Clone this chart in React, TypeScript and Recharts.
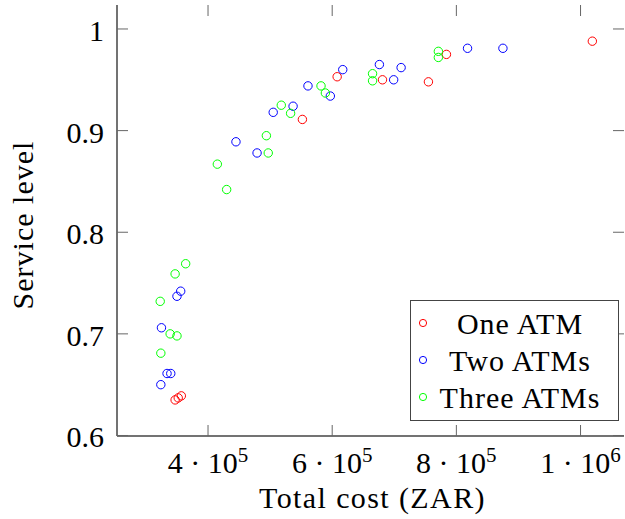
import React from "react"
import { ScatterChart, Scatter, XAxis, YAxis, Legend } from "recharts"

// ── Data ─────────────────────────────────────────────────────────────────────

const oneAtmCost = [608000, 552000, 1019000, 784000, 681000, 755000, 347000, 352000, 357000]
const oneAtmLevel = [0.953, 0.911, 0.988, 0.975, 0.95, 0.948, 0.635, 0.637, 0.639]

const twoAtmCost = [
  617000, 561000, 597000, 537000, 505000, 445000, 479000, 875000, 818000,
  676000, 711000, 699000, 356000, 350000, 325000, 334000, 340000, 324000
]
const twoAtmLevel = [
  0.96, 0.944, 0.934, 0.924, 0.918, 0.889, 0.878, 0.981, 0.981,
  0.965, 0.962, 0.95, 0.742, 0.737, 0.706, 0.661, 0.661, 0.65
]

const threeAtmCost = [
  582000, 589000, 518000, 533000, 494000, 497000, 415000, 430000, 771000,
  771000, 665000, 665000, 364000, 347000, 323000, 339000, 350000, 324000
]
const threeAtmLevel = [
  0.944, 0.937, 0.925, 0.917, 0.895, 0.878, 0.867, 0.842, 0.978,
  0.972, 0.956, 0.949, 0.769, 0.759, 0.732, 0.7, 0.698, 0.681
]

const costTicks = [400000, 600000, 800000, 1000000]
const levelTicks = [0.6, 0.7, 0.8, 0.9, 1]

const COST_DOMAIN: [number, number] = [253400, 1070000]
const LEVEL_DOMAIN: [number, number] = [0.5995, 1.0236]

const SERIES = [
  { name: "One ATM", color: "#ff0000", cost: oneAtmCost, level: oneAtmLevel },
  { name: "Two ATMs", color: "#0000ff", cost: twoAtmCost, level: twoAtmLevel },
  { name: "Three ATMs", color: "#00ff00", cost: threeAtmCost, level: threeAtmLevel }
]

const toPoints = (xs: number[], ys: number[]) => xs.map((x, i) => ({ x, y: ys[i] }))

// ── Layout / styling ─────────────────────────────────────────────────────────

const WIDTH = 625
const HEIGHT = 519
const MARGIN = { top: 5, right: 1, bottom: 0, left: 0 }
const Y_AXIS_W = 117
const X_AXIS_H = 83
const PLOT_W = WIDTH - MARGIN.left - MARGIN.right - Y_AXIS_W
const PLOT_H = HEIGHT - MARGIN.top - MARGIN.bottom - X_AXIS_H

const FONT = "Liberation Serif"
const FRAME = "#444"
const TICK_COLOR = "#666"
const TICK_LEN = 11

// Inward ticks: the bottom/left tick also draws its mirror on the top/right edge.
const BottomTick = ({ x, y, payload }: any) => {
  const v: number = payload.value
  const exp = Math.floor(Math.log10(v))
  const mant = Math.round(v / Math.pow(10, exp))
  return (
    <g>
      <path d={`M${x},${y}V${y - TICK_LEN}`} stroke={TICK_COLOR} strokeWidth={1} fill="none" />
      <path
        d={`M${x},${y - PLOT_H}V${y - PLOT_H + TICK_LEN}`}
        stroke={TICK_COLOR}
        strokeWidth={1}
        fill="none"
      />
      <text x={x} y={y + 37} textAnchor="middle" fontFamily={FONT} fontSize={30} fill="#000">
        <tspan>{`${mant} · 10`}</tspan>
        <tspan dy={-11} fontSize={21}>{exp}</tspan>
      </text>
    </g>
  )
}

const LeftTick = ({ x, y, payload }: any) => (
  <g>
    <path d={`M${x},${y}H${x + TICK_LEN}`} stroke={TICK_COLOR} strokeWidth={1} fill="none" />
    <path
      d={`M${x + PLOT_W},${y}H${x + PLOT_W - TICK_LEN}`}
      stroke={TICK_COLOR}
      strokeWidth={1}
      fill="none"
    />
    <text x={x - 13} y={y + 12} textAnchor="end" fontFamily={FONT} fontSize={30} fill="#000">
      {String(payload.value)}
    </text>
  </g>
)

const Marker = ({ color }: { color: string }) => (
  <svg width={24} height={12} style={{ display: "block" }}>
    <circle cx={12} cy={6} r={3.6} fill="none" stroke={color} strokeWidth={1} />
  </svg>
)

const LegendBox = () => (
  <div
    style={{
      border: `1.5px solid ${FRAME}`,
      background: "#fff",
      padding: "3.5px 0 4.5px 0",
      fontFamily: FONT,
      fontSize: 30,
      letterSpacing: 1,
      color: "#000",
      boxSizing: "border-box",
      width: 209
    }}
  >
    {SERIES.map(s => (
      <div key={s.name} style={{ display: "flex", alignItems: "center", height: 37, lineHeight: "37px" }}>
        <Marker color={s.color} />
        <div style={{ width: 170, textAlign: "center", whiteSpace: "nowrap" }}>{s.name}</div>
      </div>
    ))}
  </div>
)

export default function App() {
  return (
    <div style={{ position: "absolute", left: 0, top: 0, background: "#fff", fontFamily: FONT }}>
      <ScatterChart width={WIDTH} height={HEIGHT} margin={MARGIN}>
        <XAxis
          type="number"
          dataKey="x"
          domain={COST_DOMAIN}
          ticks={costTicks}
          interval={0}
          allowDataOverflow
          height={X_AXIS_H}
          tickSize={0}
          tickMargin={0}
          tickLine={false}
          tick={<BottomTick />}
          axisLine={{ stroke: FRAME, strokeWidth: 1.5 }}
          label={({ viewBox }: any) => (
            <text
              x={viewBox.x + viewBox.width / 2 + 2}
              y={508}
              textAnchor="middle"
              fontFamily={FONT}
              fontSize={30}
              letterSpacing={1.4}
              fill="#000"
            >
              Total cost (ZAR)
            </text>
          )}
        />
        {/* top and right axes only close the frame */}
        <XAxis
          xAxisId="top"
          orientation="top"
          type="number"
          dataKey="x"
          domain={COST_DOMAIN}
          allowDataOverflow
          height={0}
          tick={false}
          tickLine={false}
          axisLine={{ stroke: FRAME, strokeWidth: 1.5 }}
        />
        <YAxis
          type="number"
          dataKey="y"
          domain={LEVEL_DOMAIN}
          ticks={levelTicks}
          interval={0}
          allowDataOverflow
          width={Y_AXIS_W}
          tickSize={0}
          tickMargin={0}
          tickLine={false}
          tick={<LeftTick />}
          axisLine={{ stroke: FRAME, strokeWidth: 1.5 }}
          label={() => (
            <text
              x={33}
              y={225}
              transform="rotate(-90 33 225)"
              textAnchor="middle"
              fontFamily={FONT}
              fontSize={30}
              letterSpacing={1}
              fill="#000"
            >
              Service level
            </text>
          )}
        />
        <YAxis
          yAxisId="right"
          orientation="right"
          type="number"
          dataKey="y"
          domain={LEVEL_DOMAIN}
          allowDataOverflow
          width={0}
          tick={false}
          tickLine={false}
          axisLine={{ stroke: FRAME, strokeWidth: 1.5 }}
        />
        {SERIES.map(s => (
          <Scatter
            key={s.name}
            name={s.name}
            data={toPoints(s.cost, s.level)}
            isAnimationActive={false}
            shape={(p: any) => (
              <circle cx={p.cx} cy={p.cy} r={4.2} fill="none" stroke={s.color} strokeWidth={1} />
            )}
          />
        ))}
        <Legend
          layout="horizontal"
          verticalAlign="middle"
          align="center"
          content={<LegendBox />}
          wrapperStyle={{ left: 410, top: 300, width: 209, height: 122 }}
        />
      </ScatterChart>
    </div>
  )
}
